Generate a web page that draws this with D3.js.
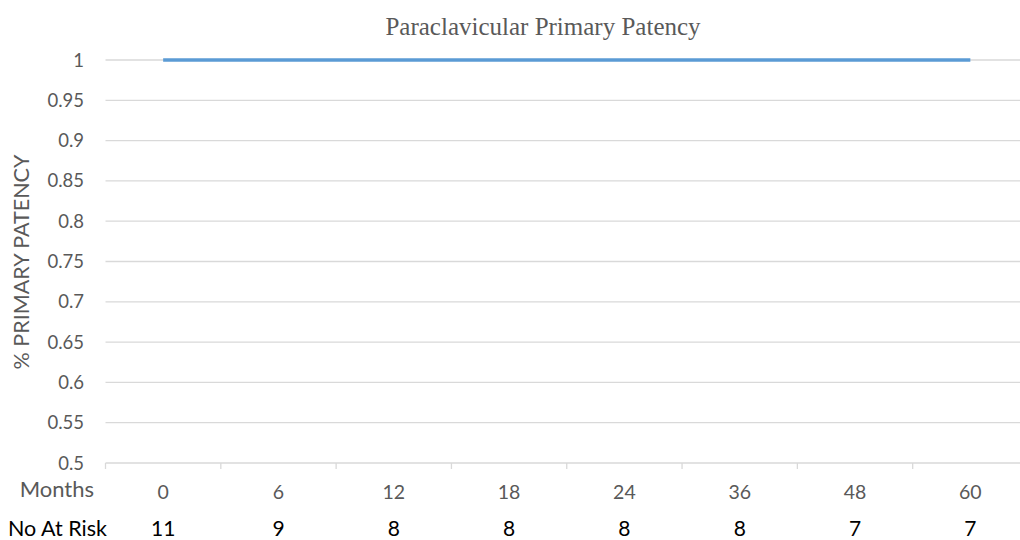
<!DOCTYPE html>
<html>
<head>
<meta charset="utf-8">
<script src="https://cdn.jsdelivr.net/npm/d3@7"></script>
<style>
  body { margin: 0; background: #fff; }
  svg { display: block; }
  .grid line { stroke: #d9d9d9; stroke-width: 1.3; }
</style>
</head>
<body>
<div id="chart"></div>
<script>
var months = ["0", "6", "12", "18", "24", "36", "48", "60"];
var patency = [1, 1, 1, 1, 1, 1, 1, 1];
var atRisk = [11, 9, 8, 8, 8, 8, 7, 7];
var yTicks = [0.5, 0.55, 0.6, 0.65, 0.7, 0.75, 0.8, 0.85, 0.9, 0.95, 1];

var w = 1020;
var h = 540;
var font = "Lato, 'Open Sans', sans-serif";

var svg = d3.select("#chart")
    .append("svg")
    .attr("width", w)
    .attr("height", h);

var xScale = d3.scaleBand()
    .domain(months)
    .range([105.5, 1028]);

var yScale = d3.scaleLinear()
    .domain([0.5, 1])
    .range([463, 60]);

// gridlines
svg.append("g")
    .attr("class", "grid")
    .selectAll("line")
    .data(yTicks)
    .enter()
    .append("line")
    .attr("x1", 105.5)
    .attr("x2", 1028)
    .attr("y1", function(d) { return yScale(d); })
    .attr("y2", function(d) { return yScale(d); });

// y tick labels
svg.append("g")
    .selectAll("text")
    .data(yTicks)
    .enter()
    .append("text")
    .attr("x", 84)
    .attr("y", function(d) { return yScale(d) + 6.5; })
    .attr("text-anchor", "end")
    .attr("fill", "#595959")
    .style("font-family", font)
    .style("font-size", "18.5px")
    .text(function(d) { return d3.format("~g")(d); });

// x axis tick marks between categories
var bounds = months.map(function(m) { return xScale(m); });
svg.append("g")
    .selectAll("line")
    .data(bounds)
    .enter()
    .append("line")
    .attr("x1", function(d) { return d; })
    .attr("x2", function(d) { return d; })
    .attr("y1", 463)
    .attr("y2", 469)
    .attr("stroke", "#d9d9d9")
    .attr("stroke-width", 1.3);

// month labels
svg.append("g")
    .selectAll("text")
    .data(months)
    .enter()
    .append("text")
    .attr("x", function(d) { return xScale(d) + xScale.bandwidth() / 2; })
    .attr("y", 499)
    .attr("text-anchor", "middle")
    .attr("fill", "#595959")
    .style("font-family", font)
    .style("font-size", "19.5px")
    .text(function(d) { return d; });

// number at risk row
svg.append("g")
    .selectAll("text")
    .data(atRisk)
    .enter()
    .append("text")
    .attr("x", function(d, i) { return xScale(months[i]) + xScale.bandwidth() / 2; })
    .attr("y", 536)
    .attr("text-anchor", "middle")
    .attr("fill", "#000")
    .style("font-family", font)
    .style("font-size", "21px")
    .text(function(d) { return d; });

svg.append("text")
    .attr("x", 94)
    .attr("y", 497)
    .attr("text-anchor", "end")
    .attr("fill", "#595959")
    .style("font-family", font)
    .style("font-size", "22px")
    .text("Months");

svg.append("text")
    .attr("x", 8)
    .attr("y", 536)
    .attr("fill", "#000")
    .style("font-family", font)
    .style("font-size", "21.5px")
    .text("No At Risk");

// patency line
var line = d3.line()
    .x(function(d, i) { return xScale(months[i]) + xScale.bandwidth() / 2; })
    .y(function(d) { return yScale(d); });

svg.append("path")
    .datum(patency)
    .attr("fill", "none")
    .attr("stroke", "#5b9bd5")
    .attr("stroke-width", 3.5)
    .attr("d", line);

// y axis title
svg.append("text")
    .attr("transform", "translate(29,262) rotate(-90)")
    .attr("text-anchor", "middle")
    .attr("fill", "#595959")
    .style("font-family", font)
    .style("font-size", "21.5px")
    .text("% PRIMARY PATENCY");

// chart title
svg.append("text")
    .attr("x", 543)
    .attr("y", 35)
    .attr("text-anchor", "middle")
    .attr("fill", "#595959")
    .style("font-family", "'Liberation Serif', 'DejaVu Serif', serif")
    .style("font-size", "25px")
    .text("Paraclavicular Primary Patency");
</script>
</body>
</html>
